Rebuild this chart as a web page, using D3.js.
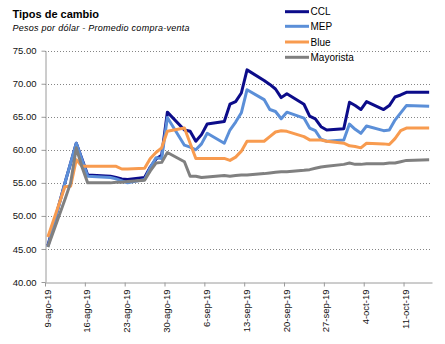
<!DOCTYPE html>
<html>
<head>
<meta charset="utf-8">
<script src="https://cdn.jsdelivr.net/npm/d3@7"></script>
<style>
  html, body { margin: 0; padding: 0; background: #fff; }
  svg { display: block; font-family: "Liberation Sans", Arial, sans-serif; }
</style>
</head>
<body>
<svg id="chart" width="445" height="344"></svg>
<script>
// Business days (Aug 9 – Oct 15, 2019)
const dates = [
  "2019-08-09","2019-08-12","2019-08-13","2019-08-14","2019-08-15","2019-08-16",
  "2019-08-20","2019-08-21","2019-08-22","2019-08-23","2019-08-26","2019-08-27",
  "2019-08-28","2019-08-29","2019-08-30",
  "2019-09-02","2019-09-03","2019-09-04","2019-09-05","2019-09-06",
  "2019-09-09","2019-09-10","2019-09-11","2019-09-12","2019-09-13",
  "2019-09-16","2019-09-17","2019-09-18","2019-09-19","2019-09-20",
  "2019-09-23","2019-09-24","2019-09-25","2019-09-26","2019-09-27","2019-09-30",
  "2019-10-01","2019-10-02","2019-10-03","2019-10-04",
  "2019-10-07","2019-10-08","2019-10-09","2019-10-10","2019-10-11","2019-10-15"
];

const ccl = [
  45.5, 55.0, 58.0, 61.0, 58.6, 56.2, 56.0, 55.8, 55.6, 55.5, 55.8, 57.4, 58.6, 59.2, 65.7,
  63.0, 62.8, 61.3, 62.3, 63.9, 64.3, 66.9, 67.3, 68.6, 72.1, 70.5, 69.9, 69.2, 67.9, 68.5,
  66.9, 65.1, 64.7, 63.5, 63.0, 63.2,
  67.2, 66.7, 66.1, 67.3, 66.1, 66.7, 68.0, 68.3, 68.7, 68.7
];
const mep = [
  45.3, 55.0, 58.0, 61.0, 58.5, 56.0, 55.8, 55.6, 55.3, 55.0, 55.5, 57.3, 58.8, 58.7, 64.9,
  60.7, 60.4, 60.0, 60.9, 62.5, 61.0, 63.0, 64.2, 65.6, 69.1, 67.6, 66.1, 65.8, 64.7, 65.7,
  64.8, 63.3, 62.9, 61.6, 61.3, 61.5,
  63.9, 63.1, 62.5, 63.6, 62.9, 63.0, 64.5, 65.6, 66.7, 66.6
];
const blue = [
  46.8, 54.4, 54.5, 58.5, 57.5, 57.5, 57.5, 57.5, 57.1, 57.1, 57.2, 58.7, 59.6, 60.3, 62.8,
  63.3, 61.0, 58.7, 58.7, 58.7, 58.7, 58.4, 58.9, 59.8, 61.3, 61.3, 62.0, 62.7, 62.9, 62.8,
  62.0, 61.5, 61.5, 61.5, 61.3, 61.0,
  60.6, 60.5, 60.3, 61.0, 60.9, 60.8, 61.7, 62.9, 63.3, 63.3
];
const mayorista = [
  45.3, 52.5, 55.0, 60.3, 57.4, 55.0, 55.0, 55.1, 55.1, 55.2, 55.4, 56.8, 58.0, 58.1, 59.6,
  58.2, 56.0, 56.0, 55.8, 55.9, 56.1, 56.0, 56.1, 56.2, 56.2, 56.4, 56.5, 56.6, 56.7, 56.7,
  56.9, 57.0, 57.2, 57.4, 57.5, 57.8,
  58.0, 57.8, 57.8, 57.9, 57.9, 58.0, 58.0, 58.2, 58.4, 58.5
];

const seriesNames = ["CCL", "MEP", "Blue", "Mayorista"];
const seriesColors = ["#0c0c8a", "#5b8fd8", "#f89b4f", "#808080"];
const seriesValues = [ccl, mep, blue, mayorista];

const yTicks = [40, 45, 50, 55, 60, 65, 70, 75];
const xTickDates = ["2019-08-09","2019-08-16","2019-08-23","2019-08-30","2019-09-06",
                    "2019-09-13","2019-09-20","2019-09-27","2019-10-04","2019-10-11"];
const xTickLabels = ["9-ago-19","16-ago-19","23-ago-19","30-ago-19","6-sep-19",
                     "13-sep-19","20-sep-19","27-sep-19","4-oct-19","11-oct-19"];

const parse = d3.timeParse("%Y-%m-%d");
const svg = d3.select("#chart");

const plotLeft = 45, plotRight = 432, plotTop = 50.7, plotBottom = 282;

// Each day occupies a slot; points sit in the middle of their day.
const x = d3.scaleTime()
  .domain([parse("2019-08-09"), parse("2019-10-16")])
  .range([plotLeft, plotRight]);
const y = d3.scaleLinear().domain([40, 75]).range([plotBottom, plotTop]);
const mid = d => d3.timeHour.offset(parse(d), 12);

// Title block
svg.append("text").attr("x", 12.5).attr("y", 18)
  .attr("font-size", 11).attr("font-weight", "bold").attr("fill", "#000")
  .text("Tipos de cambio");
svg.append("text").attr("x", 12.5).attr("y", 30.5)
  .attr("font-size", 9).attr("font-style", "italic").attr("fill", "#000")
  .attr("textLength", 177).attr("lengthAdjust", "spacing")
  .text("Pesos por dólar - Promedio compra-venta");

// Horizontal dotted gridlines
svg.append("g").selectAll("line")
  .data(yTicks.filter(v => v > 40))
  .join("line")
  .attr("x1", plotLeft).attr("x2", plotRight)
  .attr("y1", d => Math.round(y(d)) + 0.5).attr("y2", d => Math.round(y(d)) + 0.5)
  .attr("stroke", "#858585").attr("stroke-width", 1)
  .attr("stroke-dasharray", "1,2");

// Y axis
const yAxis = svg.append("g").attr("transform", `translate(${plotLeft + 0.5},0)`)
  .call(d3.axisLeft(y).tickValues(yTicks).tickFormat(d3.format(".2f"))
    .tickSize(4).tickSizeOuter(0).tickPadding(5));
yAxis.select(".domain").attr("stroke", "#9a9a9a");
yAxis.selectAll(".tick line").attr("stroke", "#9a9a9a");
yAxis.selectAll(".tick text").attr("font-size", 9.5).attr("fill", "#111")
  .attr("font-family", "Liberation Sans, Arial, sans-serif");

// X axis
const xAxis = svg.append("g").attr("transform", `translate(0,${plotBottom + 0.5})`)
  .call(d3.axisBottom(x).tickValues(xTickDates.map(parse))
    .tickFormat((d, i) => xTickLabels[i]).tickSize(4).tickSizeOuter(0));
xAxis.select(".domain").attr("stroke", "#9a9a9a");
xAxis.selectAll(".tick line").attr("stroke", "#9a9a9a");
xAxis.selectAll(".tick text")
  .attr("font-size", 9.5).attr("fill", "#111")
  .attr("font-family", "Liberation Sans, Arial, sans-serif")
  .attr("transform", "rotate(-90)")
  .attr("text-anchor", "end")
  .attr("x", -7).attr("y", 5).attr("dy", 0);

// Series lines
const line = d3.line()
  .x(d => x(d.date))
  .y(d => y(d.value));

seriesNames.forEach((name, k) => {
  const pts = dates.map((d, i) => ({ date: mid(d), value: seriesValues[k][i] }));
  svg.append("path")
    .datum(pts)
    .attr("fill", "none")
    .attr("stroke", seriesColors[k])
    .attr("stroke-width", 3)
    .attr("stroke-linejoin", "round")
    .attr("d", line);
});

// Legend
const legendY = [11.7, 26.3, 42, 57.3];
const legend = svg.append("g");
seriesNames.forEach((name, k) => {
  legend.append("line")
    .attr("x1", 285).attr("x2", 309)
    .attr("y1", legendY[k]).attr("y2", legendY[k])
    .attr("stroke", seriesColors[k]).attr("stroke-width", 3);
  legend.append("text")
    .attr("x", 310.5).attr("y", legendY[k]).attr("dy", "0.36em")
    .attr("font-size", 10).attr("fill", "#000")
    .text(name);
});
</script>
</body>
</html>
